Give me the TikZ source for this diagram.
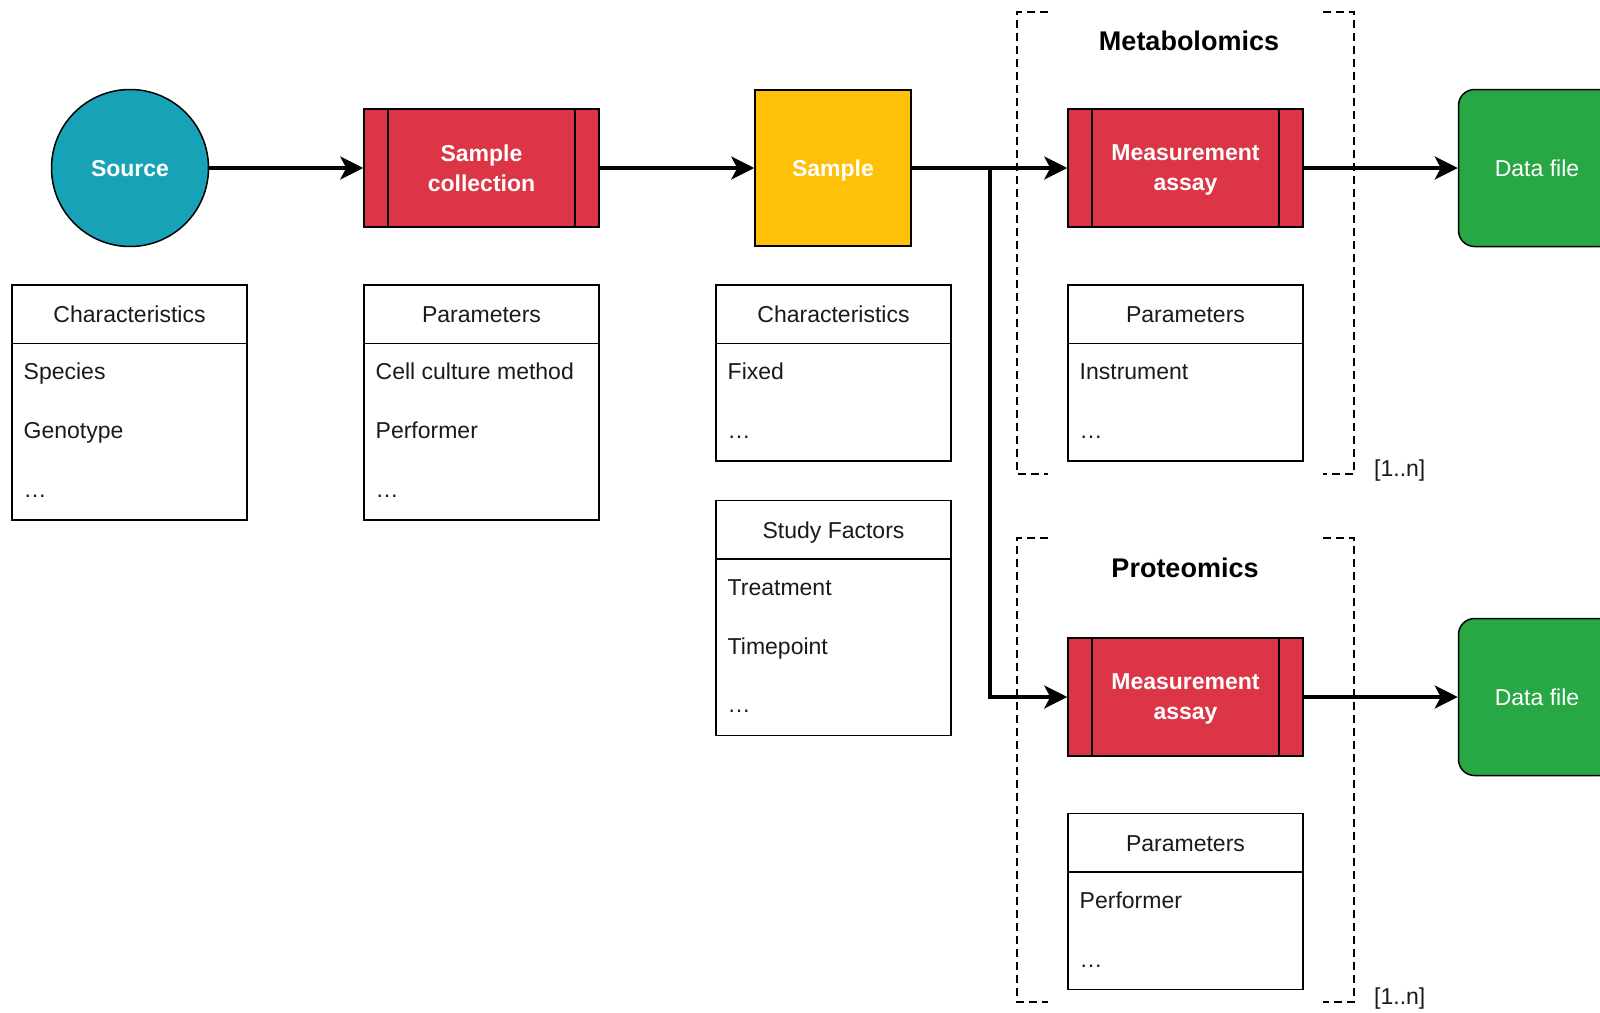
\documentclass[tikz,border=0pt]{standalone}
\usepackage{fontspec}
\setmainfont{Liberation Sans}
\usetikzlibrary{arrows.meta,calc}
\definecolor{srcteal}{HTML}{17A2B8}
\definecolor{redbox}{HTML}{DC3545}
\definecolor{yelbox}{HTML}{FFC107}
\definecolor{grnbox}{HTML}{28A745}
\definecolor{txt}{HTML}{1A1A1A}

\tikzset{
  lbl/.style={font=\fontsize{23}{28}\selectfont, text=txt},
  bl/.style={font=\bfseries\fontsize{23}{30}\selectfont, text=white, align=center, text depth=0pt},
  outl/.style={draw=black, line width=1.5pt},
  proc/.style={outl, fill=redbox, minimum width=235pt, minimum height=118pt, inner sep=0pt, bl,
    path picture={
      \draw[line width=1.5pt] ([xshift=24pt]path picture bounding box.north west) -- ([xshift=24pt]path picture bounding box.south west);
      \draw[line width=1.5pt] ([xshift=-24pt]path picture bounding box.north east) -- ([xshift=-24pt]path picture bounding box.south east);
    }},
  datafile/.style={outl, fill=grnbox, rounded corners=16pt, minimum width=157pt, minimum height=157pt,
    font=\fontsize{23}{28}\selectfont, text=white, text depth=0pt},
  arr/.style={line width=3.4pt, -{Stealth[length=23pt,width=23pt,inset=6pt]}},
  dsh/.style={line width=1.5pt, dash pattern=on 8pt off 5pt},
  hdr/.style={outl, lbl, outer sep=0pt, minimum width=235pt, minimum height=58.7pt, inner sep=0pt, text height=16.5pt, text depth=0pt},
  bodyb/.style={outl, outer sep=0pt, minimum width=235pt, inner sep=0pt},
  item/.style={lbl, inner sep=0pt, anchor=west, text height=16.5pt, text depth=0pt},
  ttl/.style={font=\bfseries\fontsize{27}{32}\selectfont, text=black},
  mult/.style={lbl, anchor=west, inner sep=0pt}
}

\newcommand{\propbox}[6]{%
  \node[hdr, anchor=north west] (#1h) at (#2,#3) {#5};
  \node[bodyb, anchor=north, minimum height=#4*58.7pt] (#1b) at (#1h.south) {};
  \foreach \t [count=\i] in {#6}
    \node[item] (#1i\i) at ($(#1b.north west)+(11.5pt,{-28pt-58.7pt*(\i-1)})$) {\t};
}

\begin{document}
\begin{tikzpicture}[x=1pt,y=-1pt]
\useasboundingbox (0,0) rectangle (1600,1012);
\clip (0,0) rectangle (1600,1012);
\fill[white] (0,0) rectangle (1600,1012);

% main flow
\node[circle, outl, fill=srcteal, minimum size=157pt, inner sep=0pt, bl] (src) at (130,168) {Source};
\node[proc] (coll) at (481.5,168) {Sample\\collection};
\node[outl, fill=yelbox, minimum width=156pt, minimum height=156pt, bl] (smp) at (833,168) {Sample};
\node[proc] (ma1) at (1185.5,168) {Measurement\\assay};
\node[proc] (ma2) at (1185.5,697) {Measurement\\assay};
\node[datafile] (df1) at (1537,168) {Data file};
\node[datafile] (df2) at (1537,697) {Data file};

% dashed brackets
\draw[dsh] (1048,12) -- (1017,12) -- (1017,474) -- (1048,474);
\draw[dsh] (1323,12) -- (1354,12) -- (1354,474) -- (1323,474);
\draw[dsh] (1048,538) -- (1017,538) -- (1017,1002) -- (1048,1002);
\draw[dsh] (1323,538) -- (1354,538) -- (1354,1002) -- (1323,1002);

\node[ttl] (t-met) at (1189,41) {Metabolomics};
\node[ttl] (t-pro) at (1185,568) {Proteomics};
\node[mult] (m1) at (1374,471) {[1..n]};
\node[mult] (m2) at (1374,999) {[1..n]};

% connectors
\draw[arr] (src) -- (coll);
\draw[arr] (coll) -- (smp);
\draw[arr] (smp) -- (ma1);
\coordinate (br) at (990,168);
\draw[arr] (br) |- (ma2);
\draw[arr] (ma1) -- (df1);
\draw[arr] (ma2) -- (df2);

% property tables
\propbox{ta}{12}{285}{3}{Characteristics}{Species,Genotype,…}
\propbox{tb}{364}{285}{3}{Parameters}{Cell culture method,Performer,…}
\propbox{tc}{716}{285}{2}{Characteristics}{Fixed,…}
\propbox{td}{716}{500.5}{3}{Study Factors}{Treatment,Timepoint,…}
\propbox{te}{1068}{285}{2}{Parameters}{Instrument,…}
\propbox{tf}{1068}{813.5}{2}{Parameters}{Performer,…}
\end{tikzpicture}
\end{document}
